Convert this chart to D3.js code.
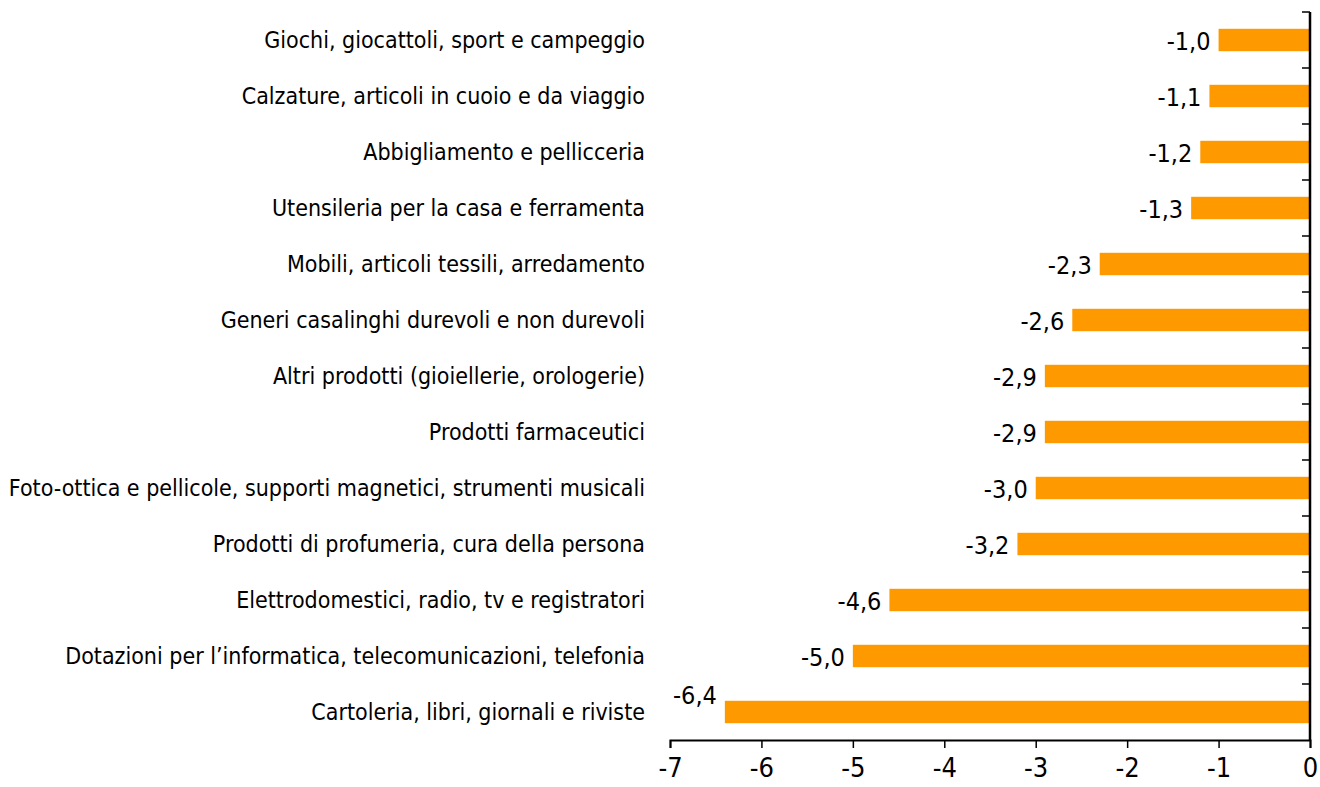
<!DOCTYPE html>
<html><head><meta charset="utf-8">
<script src="https://cdn.jsdelivr.net/npm/d3@7"></script>
<style>
body{margin:0;background:#fff;}
svg{display:block;}
text{font-family:"DejaVu Sans Condensed","Liberation Sans Narrow","Liberation Sans",sans-serif;fill:#000;}
</style></head>
<body>
<svg id="c" width="1320" height="787"></svg>
<script>
const categories = [
  "Giochi, giocattoli, sport e campeggio",
  "Calzature, articoli in cuoio e da viaggio",
  "Abbigliamento e pellicceria",
  "Utensileria per la casa e ferramenta",
  "Mobili, articoli tessili, arredamento",
  "Generi casalinghi durevoli e non durevoli",
  "Altri prodotti (gioiellerie, orologerie)",
  "Prodotti farmaceutici",
  "Foto-ottica e pellicole, supporti magnetici, strumenti musicali",
  "Prodotti di profumeria, cura della persona",
  "Elettrodomestici, radio, tv e registratori",
  "Dotazioni per l\u2019informatica, telecomunicazioni, telefonia",
  "Cartoleria, libri, giornali e riviste"
];
const values = [-1.0, -1.1, -1.2, -1.3, -2.3, -2.6, -2.9, -2.9, -3.0, -3.2, -4.6, -5.0, -6.4];
const xTicks = [-7, -6, -5, -4, -3, -2, -1, 0];

const svg = d3.select("#c");
const mLeft = 670, mRight = 1310, mTop = 12, mBottom = 740;
const x = d3.scaleLinear().domain([-7, 0]).range([mLeft, mRight]);
const y = d3.scaleBand().domain(categories).range([mTop, mBottom]).paddingInner(0.6).paddingOuter(0.3);
const yb = d3.scaleBand().domain(categories).range([mTop, mBottom]);
const fmt = v => d3.format(".1f")(v).replace(".", ",").replace("\u2212", "-");

// bars
svg.append("g").selectAll("rect").data(values).join("rect")
  .attr("x", d => x(d)).attr("width", d => x(0) - x(d))
  .attr("y", (d, i) => y(categories[i])).attr("height", y.bandwidth())
  .attr("fill", "#FF9900");

// value labels
svg.append("g").selectAll("text").data(values).join("text")
  .attr("x", d => x(d) - 8)
  .attr("y", (d, i) => y(categories[i]) + y.bandwidth() / 2 + (x(d) - 60 < mLeft ? -17 : 1))
  .attr("dy", "0.36em")
  .attr("text-anchor", "end")
  .style("font-size", "25px")
  .text(d => fmt(d));

// category labels
svg.append("g").selectAll("text").data(categories).join("text")
  .attr("x", 645)
  .attr("y", d => y(d) + y.bandwidth() / 2)
  .attr("dy", "0.36em")
  .attr("text-anchor", "end")
  .style("font-size", "23px")
  .text(d => d);

// x axis
const xAxis = svg.append("g").attr("transform", `translate(0,${mBottom})`)
  .call(d3.axisBottom(x).tickValues(xTicks).tickSize(8).tickPadding(10).tickFormat(d => String(d)));
xAxis.select(".domain").attr("stroke", "#000").attr("stroke-width", 2);
xAxis.selectAll(".tick line").attr("stroke", "#000").attr("stroke-width", 1.5);
xAxis.selectAll(".tick text").style("font-size", "27px").style("font-family", '"DejaVu Sans Condensed","Liberation Sans Narrow",sans-serif');

// y axis (right, at zero), ticks at band boundaries
const yAxisG = svg.append("g").attr("transform", `translate(${mRight},0)`);
yAxisG.append("line").attr("x1", 0).attr("x2", 0).attr("y1", mTop).attr("y2", mBottom)
  .attr("stroke", "#000").attr("stroke-width", 2.5);
yAxisG.selectAll("line.t").data(categories).join("line").attr("class", "t")
  .attr("x1", -8).attr("x2", 0)
  .attr("y1", d => yb(d)).attr("y2", d => yb(d))
  .attr("stroke", "#000").attr("stroke-width", 1.5);
</script>
</body></html>
